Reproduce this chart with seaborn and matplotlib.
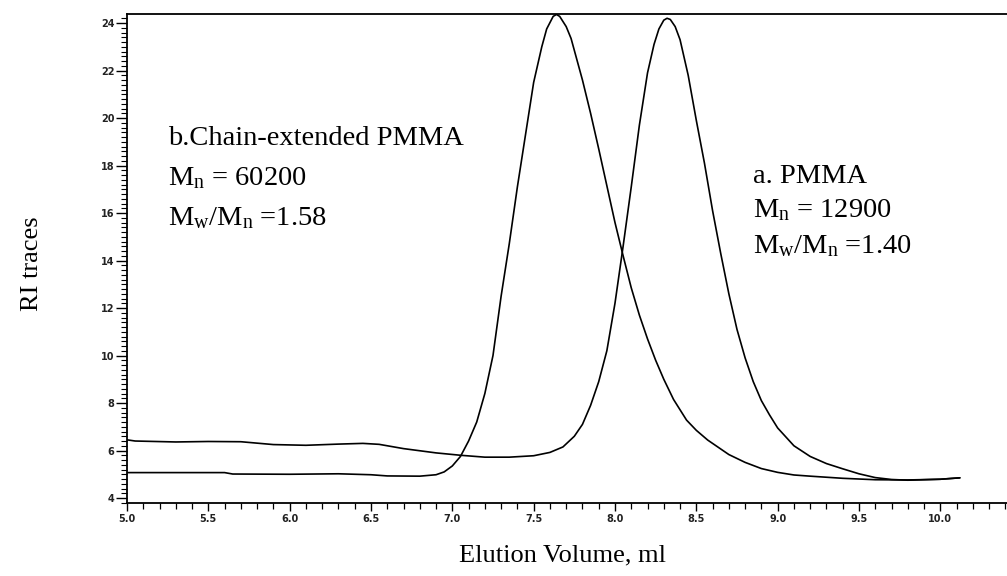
import numpy as np
import pandas as pd
import matplotlib
matplotlib.use("Agg")
import matplotlib.pyplot as plt
from matplotlib.ticker import MultipleLocator, FormatStrFormatter
import seaborn as sns

# ---- data ----
a_x = [5.0, 5.05, 5.3, 5.5, 5.7, 5.9, 6.1, 6.3, 6.45, 6.55, 6.7, 6.9, 7.05, 7.2, 7.35,
       7.5, 7.6, 7.68, 7.75, 7.8, 7.85, 7.9, 7.95, 8.0, 8.05, 8.1, 8.15, 8.2, 8.24, 8.27,
       8.30, 8.32, 8.34, 8.37, 8.4, 8.45, 8.5, 8.55, 8.6, 8.65, 8.7, 8.75, 8.8, 8.85, 8.9,
       8.95, 9.0, 9.1, 9.2, 9.3, 9.4, 9.5, 9.6, 9.7, 9.8, 9.9, 10.0, 10.12]
a_y = [6.45, 6.40, 6.36, 6.38, 6.37, 6.25, 6.22, 6.27, 6.30, 6.26, 6.08, 5.90, 5.80, 5.72, 5.72,
       5.78, 5.92, 6.15, 6.6, 7.1, 7.9, 8.9, 10.2, 12.2, 14.6, 17.1, 19.7, 21.9, 23.1, 23.75,
       24.12, 24.2, 24.15, 23.85, 23.3, 21.8, 19.9, 18.1, 16.1, 14.3, 12.6, 11.1, 9.9, 8.9, 8.1,
       7.5, 6.95, 6.2, 5.75, 5.45, 5.23, 5.02, 4.86, 4.78, 4.75, 4.77, 4.79, 4.85]

b_x = [5.0, 5.3, 5.6, 5.65, 6.0, 6.3, 6.5, 6.6, 6.8, 6.9, 6.95, 7.0, 7.05, 7.1, 7.15, 7.2,
       7.25, 7.3, 7.35, 7.4, 7.45, 7.5, 7.55, 7.58, 7.62, 7.64, 7.66, 7.70, 7.73, 7.76, 7.8,
       7.85, 7.9, 7.95, 8.0, 8.05, 8.1, 8.15, 8.2, 8.25, 8.3, 8.36, 8.44, 8.5, 8.57, 8.7,
       8.8, 8.9, 9.0, 9.1, 9.2, 9.4, 9.6, 9.8, 10.0, 10.12]
b_y = [5.07, 5.07, 5.07, 5.01, 5.0, 5.02, 4.98, 4.93, 4.92, 4.98, 5.1, 5.35, 5.75, 6.4, 7.2, 8.4,
       10.0, 12.5, 14.7, 17.1, 19.3, 21.5, 23.0, 23.75, 24.28, 24.36, 24.28, 23.85, 23.35, 22.6, 21.6,
       20.2, 18.7, 17.15, 15.6, 14.2, 12.85, 11.7, 10.7, 9.8, 9.0, 8.15, 7.28, 6.85, 6.44, 5.83,
       5.5, 5.24, 5.08, 4.97, 4.92, 4.83, 4.77, 4.76, 4.79, 4.85]

series_names = ["a. PMMA", "b.Chain-extended PMMA"]
x_ticks_major = [5.0, 5.5, 6.0, 6.5, 7.0, 7.5, 8.0, 8.5, 9.0, 9.5, 10.0]
y_ticks_major = [4, 6, 8, 10, 12, 14, 16, 18, 20, 22, 24]

x_label = "Elution Volume, ml"
y_label = "RI traces"
a_lines = ["a. PMMA", r"$\mathregular{M_n}$ = 12900", r"$\mathregular{M_w/M_n}$ =1.40"]
b_lines = ["b.Chain-extended PMMA", r"$\mathregular{M_n}$ = 60200", r"$\mathregular{M_w/M_n}$ =1.58"]

df = pd.concat([
    pd.DataFrame({"x": a_x, "y": a_y, "s": series_names[0]}),
    pd.DataFrame({"x": b_x, "y": b_y, "s": series_names[1]}),
], ignore_index=True)

# ---- style ----
sns.set_theme(style="white")
plt.rcParams["font.family"] = ["Liberation Serif", "DejaVu Serif"]
plt.rcParams["mathtext.fontset"] = "custom"
plt.rcParams["mathtext.rm"] = "Liberation Serif"

fig = plt.figure(figsize=(10.07, 5.76), dpi=100)
ax = fig.add_axes([127/1007, 1 - 503/576, 1 - 127/1007, (503 - 14)/576])

sns.lineplot(data=df, x="x", y="y", hue="s", palette=["black", "black"],
             sort=False, linewidth=1.2, legend=False, ax=ax, estimator=None)

ax.set_xlim(5.0, 10.41)
ax.set_ylim(3.79, 24.38)

for side in ["left", "bottom", "top"]:
    ax.spines[side].set_visible(True)
    ax.spines[side].set_color("black")
    ax.spines[side].set_linewidth(1.3)
ax.spines["right"].set_visible(False)

ax.set_xticks(x_ticks_major)
ax.set_yticks(y_ticks_major)
ax.xaxis.set_major_formatter(FormatStrFormatter("%.1f"))
ax.yaxis.set_major_formatter(FormatStrFormatter("%d"))
ax.xaxis.set_minor_locator(MultipleLocator(0.1))
ax.yaxis.set_minor_locator(MultipleLocator(0.2))
ax.tick_params(axis="both", which="both", direction="out", color="black",
               bottom=True, left=True, top=False, right=False)
ax.tick_params(axis="x", which="major", length=6, width=1, pad=2,
               labelsize=7, labelcolor="#222222")
ax.tick_params(axis="x", which="minor", length=4, width=0.9)
ax.tick_params(axis="y", which="major", length=8, width=1, pad=1,
               labelsize=7, labelcolor="#222222")
ax.tick_params(axis="y", which="minor", length=4, width=0.8)
for lab in ax.get_xticklabels() + ax.get_yticklabels():
    lab.set_family("DejaVu Sans")
    lab.set_fontweight("bold")

ax.set_xlabel(x_label, fontsize=19, color="black")
ax.set_ylabel(y_label, fontsize=19, color="black")
ax.xaxis.set_label_coords(0.495, -0.085)
ax.yaxis.set_label_coords(-0.095, 0.49)

# annotations
b_pos_y = [19.15, 17.45, 15.8]
a_pos_y = [17.55, 16.1, 14.6]
for t, yy in zip(b_lines, b_pos_y):
    ax.text(5.25, yy, t, fontsize=20.5, ha="left", va="center", color="black")
for t, yy in zip(a_lines, a_pos_y):
    ax.text(8.85, yy, t, fontsize=20.5, ha="left", va="center", color="black")

fig.savefig("out.png", dpi=100)
